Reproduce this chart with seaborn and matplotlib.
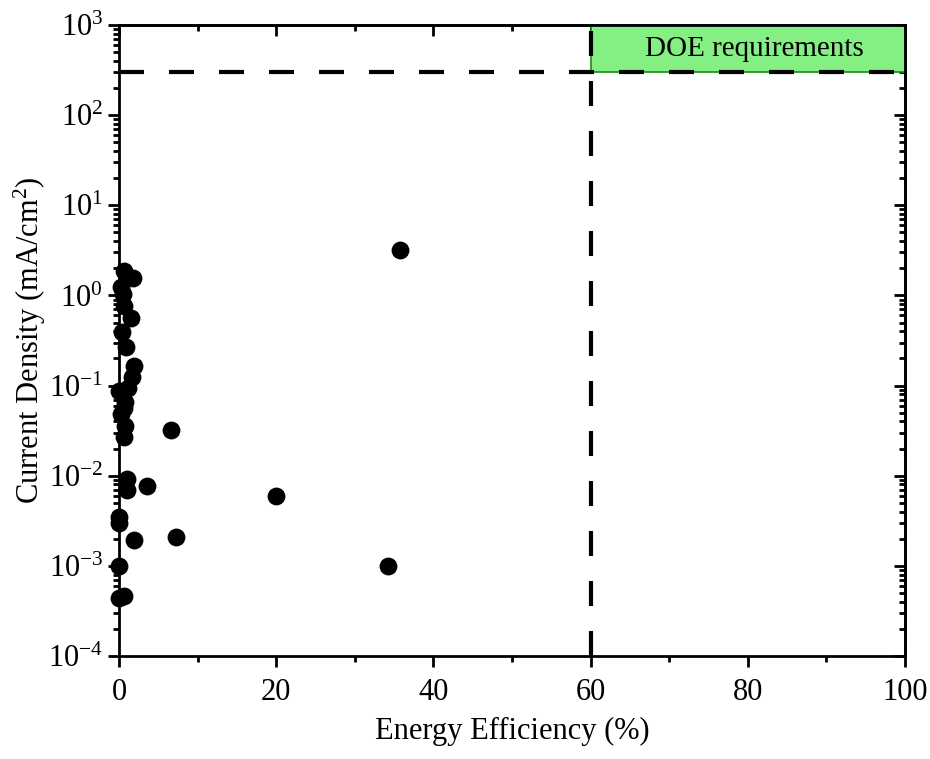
import numpy as np
import pandas as pd
import matplotlib
matplotlib.use("Agg")
import matplotlib.pyplot as plt
from matplotlib.patches import Rectangle
from matplotlib.ticker import LogLocator, NullFormatter, FixedLocator
import seaborn as sns

# Energy efficiency (%) and current density (mA/cm^2) of reported devices
efficiency = [35.7, 0.6, 1.8, 0.3, 0.5, 0.6, 1.5, 0.4, 0.9, 1.9,
              1.6, 1.1, 0.0, 0.8, 0.6, 0.3, 0.8, 0.6, 6.6, 1.0,
              3.6, 1.0, 20.0, 0.0, 0.0, 1.9, 7.2, 0.0, 34.2, 0.6,
              0.0]
current_density = [3.2, 1.85, 1.58, 1.23, 1.05, 0.77, 0.56, 0.39, 0.27, 0.167,
                   0.126, 0.093, 0.088, 0.065, 0.056, 0.049, 0.036, 0.027, 0.032, 0.0091,
                   0.0076, 0.0070, 0.0060, 0.0035, 0.0030, 0.00196, 0.0021, 0.0010, 0.0010, 0.00046,
                   0.00044]

# DOE target region
doe_efficiency = 60
doe_current = 300

x_ticks = [0, 20, 40, 60, 80, 100]
y_exponents = [-4, -3, -2, -1, 0, 1, 2, 3]

df = pd.DataFrame({"eff": efficiency, "cd": current_density})

sns.set_style("ticks")
plt.rcParams["font.family"] = ["Liberation Serif", "DejaVu Serif"]
plt.rcParams["mathtext.fontset"] = "custom"
plt.rcParams["mathtext.rm"] = "Liberation Serif"
plt.rcParams["mathtext.it"] = "Liberation Serif:italic"
plt.rcParams["text.color"] = "black"
plt.rcParams["axes.labelcolor"] = "black"
plt.rcParams["xtick.color"] = "black"
plt.rcParams["ytick.color"] = "black"

fig = plt.figure(figsize=(9.3, 7.59), dpi=100)
ax = fig.add_axes([0.128, 0.1357, 0.845, 0.8313])

dash = (0, (6, 6))
ax.add_patch(Rectangle((doe_efficiency, doe_current), 100 - doe_efficiency, 1000 - doe_current,
                       facecolor="#84f084", edgecolor="#1a8a1a", linewidth=1.2, zorder=1))
ax.plot([0, 100], [doe_current, doe_current], color="black", lw=3, linestyle=dash, zorder=2)
ax.plot([doe_efficiency, doe_efficiency], [1e-4, 1000], color="black", lw=3,
        linestyle=dash, zorder=2)
ax.text(80.8, 10 ** 2.73, "DOE requirements", ha="center", va="center", fontsize=21,
        color="black", zorder=3)

sns.scatterplot(data=df, x="eff", y="cd", ax=ax, color="black", s=165,
                edgecolor="black", linewidth=0, zorder=4, legend=False, clip_on=False)

ax.set_yscale("log")
ax.set_xlim(0, 100)
ax.set_ylim(1e-4, 1e3)
ax.set_xticks(x_ticks)
ax.set_xticks(list(range(10, 100, 20)), minor=True)
ax.set_yticks([10.0 ** e for e in y_exponents])
ax.set_yticklabels([f"$10^{{{e}}}$" for e in y_exponents])
ax.yaxis.set_minor_locator(LogLocator(base=10, subs=np.arange(2, 10), numticks=20))
ax.yaxis.set_minor_formatter(NullFormatter())

for sp in ax.spines.values():
    sp.set_linewidth(2)
    sp.set_color("black")

ax.tick_params(axis="both", which="major", direction="out", length=8, width=2,
               labelsize=22, colors="black", top=False, right=False)
ax.tick_params(axis="both", which="minor", direction="out", length=4.5, width=2,
               top=False, right=False)
ax.tick_params(axis="x", pad=8)

# inward ticks on the top and right edges
top = ax.secondary_xaxis("top")
top.set_xticks(x_ticks)
top.xaxis.set_minor_locator(FixedLocator(list(range(10, 100, 20))))
top.tick_params(which="major", direction="in", length=8, width=2, labeltop=False)
top.tick_params(which="minor", direction="in", length=4.5, width=2)
top.spines["top"].set_linewidth(2)

right = ax.secondary_yaxis("right")
right.set_yticks([10.0 ** e for e in y_exponents])
right.yaxis.set_minor_locator(LogLocator(base=10, subs=np.arange(2, 10), numticks=20))
right.yaxis.set_minor_formatter(NullFormatter())
right.tick_params(which="major", direction="in", length=8, width=2, labelright=False)
right.tick_params(which="minor", direction="in", length=4.5, width=2)
right.spines["right"].set_linewidth(2)

ax.set_xlabel("Energy Efficiency (%)", fontsize=22, labelpad=7)
ax.set_ylabel("Current Density (mA/cm$^2$)", fontsize=22, labelpad=0)

fig.savefig("out.png", dpi=100)
